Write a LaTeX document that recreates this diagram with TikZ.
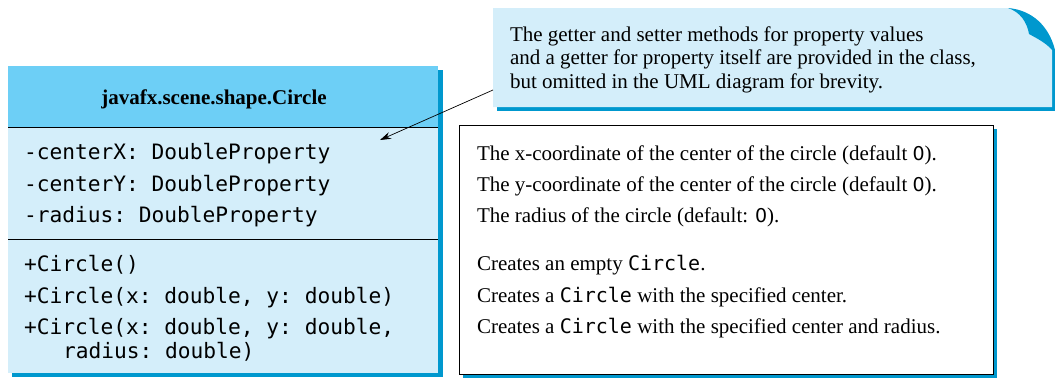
\documentclass[tikz,border=0pt]{standalone}
\usepackage{fontspec}
\setmainfont{Liberation Serif}
\setmonofont{DejaVu Sans Mono}
\newfontfamily\zerofont{DejaVu Sans}
\usetikzlibrary{arrows.meta}
\definecolor{headblue}{RGB}{109,207,246}
\definecolor{bodyblue}{RGB}{212,238,250}
\definecolor{shadeblue}{RGB}{0,152,206}
\tikzset{
  txt/.style={inner sep=0pt, outer sep=0pt, anchor=base west, font=\fontsize{21}{25}\selectfont},
  mono/.style={inner sep=0pt, outer sep=0pt, anchor=base west, font=\fontsize{21.2}{25}\selectfont\ttfamily},
}
\newcommand{\mt}[1]{{\fontsize{20}{25}\selectfont\ttfamily #1}}
\newcommand{\mzero}{{\fontsize{19}{25}\selectfont\zerofont 0}}
\begin{document}
\begin{tikzpicture}[x=1pt,y=-1pt]
\useasboundingbox (0,0) rectangle (1055,378);
% ---------- class box ----------
\fill[shadeblue] (12,70) rectangle (443,377);
\fill[headblue] (8,66) rectangle (438,127);
\fill[bodyblue] (8,127) rectangle (438,373);
\node[inner sep=0pt, outer sep=0pt, minimum width=430pt, minimum height=307pt, anchor=north west] (cls) at (8,66) {};
\draw[line width=1pt] (cls.west |- 0,127) -- (cls.east |- 0,127);
\draw[line width=1pt] (cls.west |- 0,239) -- (cls.east |- 0,239);
\node[txt, anchor=base, font=\fontsize{21}{25}\selectfont\bfseries] (title) at (214,104) {javafx.scene.shape.Circle};
\node[mono] (a1) at (24,159) {-centerX: DoubleProperty};
\node[mono] (a2) at (24,191) {-centerY: DoubleProperty};
\node[mono] (a3) at (24,222) {-radius: DoubleProperty};
\node[mono] (m1) at (24,271) {+Circle()};
\node[mono] (m2) at (24,303) {+Circle(x: double, y: double)};
\node[mono] (m3) at (24,334) {+Circle(x: double, y: double,};
\node[mono] (m4) at (63,358) {radius: double)};
% ---------- description box ----------
\fill[shadeblue] (463,129) rectangle (997,378);
\node[draw=black, line width=0.8pt, fill=white, inner sep=0pt, minimum width=534pt, minimum height=249pt, anchor=north west] (desc) at (459,125) {};
\node[txt] (d1) at (477,160) {The x-coordinate of the center of the circle (default \mzero).};
\node[txt] (d2) at (477,191) {The y-coordinate of the center of the circle (default \mzero).};
\node[txt] (d3) at (477,222) {The radius of the circle (default: \mzero).};
\node[txt] (d4) at (477,270) {Creates an empty \mt{Circle}.};
\node[txt] (d5) at (477,302) {Creates a \mt{Circle} with the specified center.};
\node[txt] (d6) at (477,333) {Creates a \mt{Circle} with the specified center and radius.};
% ---------- note ----------
\fill[shadeblue] (497,107) rectangle (1055,111);
\fill[shadeblue] (1051,50) rectangle (1055,111);
\fill[bodyblue] (493,8) -- (1008,8) .. controls (1020,12) and (1027,22) .. (1029,34)
  .. controls (1038,39) and (1046,43) .. (1052,50) -- (1052,107) -- (493,107) -- cycle;
\fill[shadeblue] (1008,8) .. controls (1032,10) and (1049,26) .. (1055,50) -- (1052,50)
  .. controls (1046,43) and (1038,39) .. (1029,34) .. controls (1027,22) and (1020,12) .. (1008,8) -- cycle;
\node[inner sep=0pt, outer sep=0pt, minimum width=559pt, minimum height=99pt, anchor=north west] (note) at (493,8) {};
\node[txt] (n1) at (510,41) {The getter and setter methods for property values};
\node[txt] (n2) at (510,64) {and a getter for property itself are provided in the class,};
\node[txt] (n3) at (510,88) {but omitted in the UML diagram for brevity.};
\coordinate (arrtip) at (380,140);
\draw[line width=0.7pt, -{Stealth[length=11pt, width=7pt]}] ([yshift=17pt]note.south west) -- (arrtip);
\end{tikzpicture}
\end{document}
